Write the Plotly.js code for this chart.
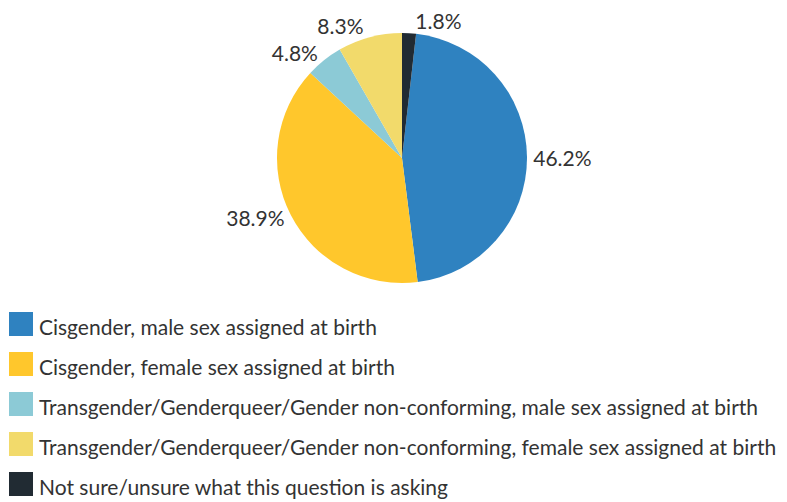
<!DOCTYPE html>
<html>
<head>
<meta charset="utf-8">
<script src="https://cdn.plot.ly/plotly-3.0.1.min.js"></script>
<style>html,body{margin:0;padding:0;background:#fff;}#chart{width:787px;height:502px;}</style>
</head>
<body>
<div id="chart"></div>
<script>
const labels = [
  "Cisgender, male sex assigned at birth",
  "Cisgender, female sex assigned at birth",
  "Transgender/Genderqueer/Gender non-conforming, male sex assigned at birth",
  "Transgender/Genderqueer/Gender non-conforming, female sex assigned at birth",
  "Not sure/unsure what this question is asking"
];
const values = [46.2, 38.9, 4.8, 8.3, 1.8];
const colors = ["#2f82c0", "#ffc72c", "#8ccad6", "#f2da6b", "#212b33"];

const W = 787, H = 502;
const px = v => v / W;
const py = v => 1 - v / H;

// pie geometry
const cx = 402, cy = 158, r = 125;
// first slice starts after the last one (1.8%) measured clockwise from 12 o'clock
const rotation = values[values.length - 1] / values.reduce((a, b) => a + b, 0) * 360;

const FONT = 'Lato, "Open Sans", sans-serif';
const shapes = [], annotations = [];
labels.forEach((lab, i) => {
  const top = 312 + i * 40;
  shapes.push({type: 'rect', xref: 'paper', yref: 'paper',
    x0: px(9), x1: px(33), y0: py(top + 24), y1: py(top),
    fillcolor: colors[i], line: {width: 0}});
  annotations.push({xref: 'paper', yref: 'paper', x: px(37), y: py(top + 14),
    xanchor: 'left', yanchor: 'middle', showarrow: false, text: lab,
    font: {family: FONT, size: 21, color: '#333333'}});
});

const trace = {
  type: 'pie', labels: labels, values: values, sort: false,
  direction: 'clockwise', rotation: rotation,
  marker: {colors: colors, line: {width: 0}},
  textposition: 'outside', texttemplate: '%{value:.1f}%',
  textfont: {family: FONT, size: 21, color: '#333333'},
  hoverinfo: 'label+percent',
  domain: {x: [px(cx - r), px(cx + r)], y: [py(cy + r), py(cy - r)]},
  showlegend: false
};

Plotly.newPlot('chart', [trace], {
  width: W, height: H, margin: {l: 0, r: 0, t: 0, b: 0},
  paper_bgcolor: '#ffffff', showlegend: false,
  shapes: shapes, annotations: annotations
}, {displayModeBar: false, staticPlot: true});
</script>
</body>
</html>
